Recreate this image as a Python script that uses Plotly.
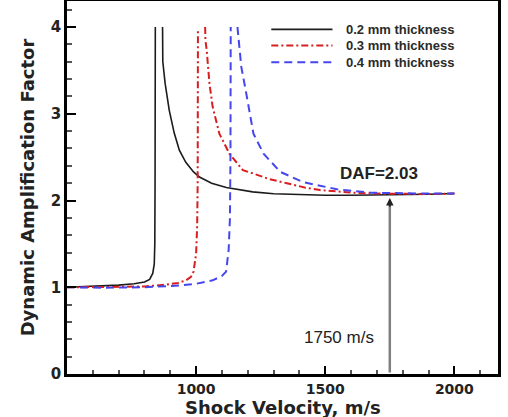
import plotly.graph_objects as go

# ---------------- data ----------------
series_names = ["0.2 mm thickness", "0.3 mm thickness", "0.4 mm thickness"]

t02_left_x = [500, 600, 700, 760, 800, 820, 832, 838, 840, 841, 842]
t02_left_y = [1.00, 1.01, 1.025, 1.04, 1.06, 1.09, 1.16, 1.27, 1.5, 2.2, 4.0]
t02_right_x = [870, 871, 880, 896, 915, 935, 960, 990, 1013, 1060, 1117, 1219, 1300, 1400,
               1500, 1600, 1700, 1800, 1900, 2000]
t02_right_y = [4.0, 3.6, 3.35, 3.04, 2.78, 2.58, 2.44, 2.33, 2.27, 2.2, 2.15, 2.1, 2.078, 2.065,
               2.06, 2.06, 2.062, 2.066, 2.072, 2.08]

t03_left_x = [500, 600, 700, 800, 884, 930, 961, 980, 990, 1000, 1004, 1006, 1007]
t03_left_y = [1.0, 1.0, 1.005, 1.01, 1.03, 1.05, 1.08, 1.12, 1.18, 1.39, 1.7, 2.2, 3.97]
t03_right_x = [1035, 1036, 1041, 1052, 1064, 1090, 1129, 1181, 1222, 1280, 1351, 1420, 1480,
               1550, 1609, 1700, 1800, 1900, 2000]
t03_right_y = [4.0, 3.85, 3.73, 3.34, 3.08, 2.77, 2.54, 2.35, 2.31, 2.25, 2.2, 2.15, 2.12,
               2.1, 2.09, 2.08, 2.075, 2.075, 2.08]

t04_left_x = [500, 650, 800, 935, 1000, 1064, 1100, 1116, 1126, 1131, 1133, 1134]
t04_left_y = [1.0, 0.995, 1.0, 1.02, 1.04, 1.08, 1.13, 1.18, 1.43, 1.8, 2.5, 4.0]
t04_right_x = [1160, 1165, 1175, 1192, 1207, 1222, 1261, 1326, 1416, 1545, 1674, 1800, 1900, 2000]
t04_right_y = [4.0, 3.85, 3.54, 3.27, 3.0, 2.77, 2.54, 2.33, 2.21, 2.13, 2.09, 2.08, 2.08, 2.08]

x_ticks = [1000, 1500, 2000]
y_ticks = [0, 1, 2, 3, 4]

marker_velocity = 1750
marker_daf = 2.03
daf_label = "DAF=2.03"
vel_label = "1750 m/s"
x_title = "Shock Velocity, m/s"
y_title = "Dynamic Amplification Factor"

colors = ["#1c1c1c", "#d81e1e", "#4646ee"]
dashes = ["solid", "7px,3px,2px,3px", "8px,5px"]
widths = [1.6, 2.0, 2.0]

branches = [
    (t02_left_x, t02_left_y, t02_right_x, t02_right_y),
    (t03_left_x, t03_left_y, t03_right_x, t03_right_y),
    (t04_left_x, t04_left_y, t04_right_x, t04_right_y),
]

fig = go.Figure()
for name, (lx, ly, rx, ry), c, d, w in zip(series_names, branches, colors, dashes, widths):
    fig.add_trace(go.Scatter(
        x=lx + [None] + rx, y=ly + [None] + ry, mode="lines", name=name,
        line=dict(color=c, dash=d, width=w), connectgaps=False, showlegend=False))

# custom legend (long line samples like the reference)
leg_rows = [0.924, 0.881, 0.836]
for name, c, d, w, yy in zip(series_names, colors, dashes, widths, leg_rows):
    fig.add_shape(type="line", xref="paper", yref="paper", x0=0.474, x1=0.616, y0=yy, y1=yy,
                  line=dict(color=c, dash=d, width=w))
    fig.add_annotation(xref="paper", yref="paper", x=0.642, y=yy, text=name, showarrow=False,
                       xanchor="left", yanchor="middle",
                       font=dict(family="Liberation Sans", size=13, color="#2a2a2a", weight="bold"))

# arrow at 1750 m/s: gray shaft + small dark head
fig.add_annotation(x=marker_velocity, y=marker_daf - 0.06, ax=marker_velocity, ay=0,
                   xref="x", yref="y", axref="x", ayref="y", text="", showarrow=True,
                   arrowhead=0, arrowwidth=2.5, arrowcolor="#808080")
fig.add_annotation(x=marker_velocity, y=marker_daf, ax=marker_velocity, ay=marker_daf - 0.12,
                   xref="x", yref="y", axref="x", ayref="y", text="", showarrow=True,
                   arrowhead=2, arrowsize=1.0, arrowwidth=1.5, arrowcolor="#222")
fig.add_annotation(x=1710, y=2.31, xref="x", yref="y", text=daf_label, showarrow=False,
                   font=dict(family="Liberation Sans", size=17, color="#222", weight="bold"))
fig.add_annotation(x=1552, y=0.42, xref="x", yref="y", text=vel_label, showarrow=False,
                   font=dict(family="Liberation Sans", size=17, color="#222"))

# x-axis title placed below the tick labels
fig.add_annotation(xref="paper", yref="paper", x=0.5, y=-0.0895, text=x_title, showarrow=False,
                   xanchor="center", yanchor="middle",
                   font=dict(family="DejaVu Sans", size=18, color="#222", weight="bold"))

tickfont = dict(family="DejaVu Sans", size=14, color="#222", weight="bold")
fig.update_layout(
    width=508, height=417,
    margin=dict(l=67, r=10, t=1, b=43),
    paper_bgcolor="white", plot_bgcolor="white",
    xaxis=dict(range=[500, 2169], tickvals=x_ticks, ticks="inside", ticklen=8, tickwidth=2,
               tickcolor="black", showgrid=False, zeroline=False, showline=True, linewidth=2.5,
               linecolor="black", mirror=True, tickfont=tickfont, automargin=False,
               minor=dict(ticks="inside", dtick=100, tick0=0, ticklen=4, tickcolor="#555",
                          showgrid=False)),
    yaxis=dict(range=[0, 4.3], tickvals=y_ticks, ticks="inside", ticklen=9, tickwidth=2,
               tickcolor="black", showgrid=False, zeroline=False, showline=True, linewidth=2.5,
               linecolor="black", mirror=True, tickfont=dict(family="DejaVu Sans", size=15,
                                                             color="#222", weight="bold"),
               automargin=False,
               minor=dict(ticks="inside", dtick=0.2, tick0=0, ticklen=5, tickcolor="#555",
                          showgrid=False),
               title=dict(text=y_title, standoff=12,
                          font=dict(family="DejaVu Sans", size=18, color="#222", weight="bold"))),
)

fig.write_html("out.html")
